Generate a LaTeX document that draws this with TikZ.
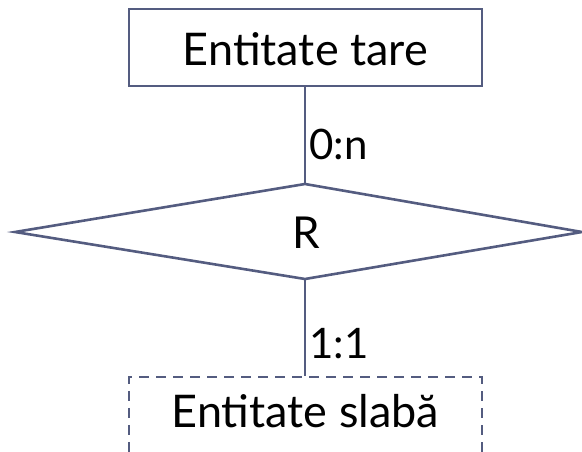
\documentclass[tikz,border=0pt]{standalone}
\usepackage{fontspec}
\setmainfont{Lato}
\definecolor{erline}{RGB}{84,92,128}
\begin{document}
\begin{tikzpicture}[x=1pt,y=-1pt,
  entbox/.style={draw=erline,line width=1.8pt,inner sep=0pt,minimum width=353pt,font=\fontsize{45}{50}\selectfont},
  conn/.style={draw=erline,line width=1.6pt},
  lbl/.style={inner sep=0pt,anchor=base west,font=\fontsize{42}{48}\selectfont}]
\useasboundingbox (0,0) rectangle (582,452);
\clip (0,0) rectangle (582,452);
% strong entity
\node[entbox,text height=57pt,text depth=20pt,anchor=north west] (strong) at (128,8) {Entitate tare};
% weak entity (cut by the picture's lower edge)
\node[entbox,dash pattern=on 10pt off 7pt,text height=51pt,text depth=45pt,anchor=north west] (weak) at (128,376) {Entitate slabă};
% relationship diamond
\coordinate (dt) at (305,184);
\coordinate (db) at (305,279);
\coordinate (dl) at (15,232);
\coordinate (dr) at (582,232);
\draw[erline,line width=2.6pt,line join=miter] (dt) -- (dr) -- (db) -- (dl) -- cycle;
\node[inner sep=0pt,anchor=base,font=\fontsize{44}{50}\selectfont] (R) at (306,248) {R};
% connectors
\draw[conn] (strong.south -| dt) -- (dt);
\draw[conn] (db) -- (weak.north -| db);
\node[lbl] (card1) at (309,160) {0:n};
\node[lbl] (card2) at (309,358) {1:1};
\end{tikzpicture}
\end{document}
